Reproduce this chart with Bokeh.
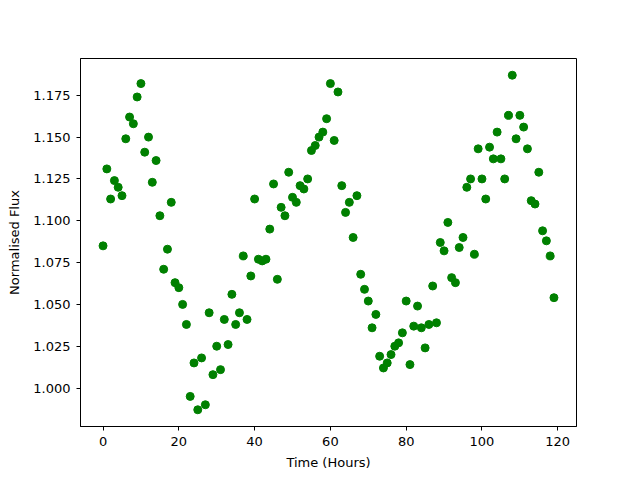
from bokeh.plotting import figure
from bokeh.models import Range1d, FixedTicker, NumeralTickFormatter, ColumnDataSource
from bokeh.embed import file_html
from bokeh.resources import INLINE

time_hours = list(range(120))
flux = [
    1.085, 1.131, 1.113, 1.124, 1.120, 1.115, 1.149, 1.162, 1.158, 1.174,
    1.182, 1.141, 1.150, 1.123, 1.136, 1.103, 1.071, 1.083, 1.111, 1.063,
    1.060, 1.050, 1.038, 0.995, 1.015, 0.987, 1.018, 0.990, 1.045, 1.008,
    1.025, 1.011, 1.041, 1.026, 1.056, 1.038, 1.045, 1.079, 1.041, 1.067,
    1.113, 1.077, 1.076, 1.077, 1.095, 1.122, 1.065, 1.108, 1.103, 1.129,
    1.114, 1.111, 1.121, 1.119, 1.125, 1.142, 1.145, 1.150, 1.153, 1.161,
    1.182, 1.148, 1.177, 1.121, 1.105, 1.111, 1.090, 1.115, 1.068, 1.059,
    1.052, 1.036, 1.044, 1.019, 1.012, 1.015, 1.020, 1.025, 1.027, 1.033,
    1.052, 1.014, 1.037, 1.049, 1.036, 1.024, 1.038, 1.061, 1.039, 1.087,
    1.082, 1.099, 1.066, 1.063, 1.084, 1.090, 1.120, 1.125, 1.080, 1.143,
    1.125, 1.113, 1.144, 1.137, 1.153, 1.137, 1.125, 1.163, 1.187, 1.149,
    1.163, 1.156, 1.143, 1.112, 1.110, 1.129, 1.094, 1.088, 1.079, 1.054,
]
x_ticks = [0, 20, 40, 60, 80, 100, 120]
y_ticks = [1.000, 1.025, 1.050, 1.075, 1.100, 1.125, 1.150, 1.175]

xmin, xmax = min(time_hours), max(time_hours)
ymin, ymax = min(flux), max(flux)
xm = (xmax - xmin) * 0.05
ym = (ymax - ymin) * 0.05

p = figure(width=632, height=472, output_backend="svg", toolbar_location=None,
           x_range=Range1d(xmin - xm, xmax + xm), y_range=Range1d(ymin - ym, ymax + ym),
           min_border_left=80, min_border_right=56, min_border_top=58, min_border_bottom=45)

src = ColumnDataSource(dict(t=time_hours, f=flux))
p.scatter("t", "f", source=src, size=8, fill_color="green", line_color="green")

p.xgrid.visible = False
p.ygrid.visible = False
p.outline_line_color = "black"
p.outline_line_width = 1
p.outline_line_alpha = 1.0
p.background_fill_color = "white"
p.border_fill_color = "white"

p.xaxis.ticker = FixedTicker(ticks=x_ticks)
p.yaxis.ticker = FixedTicker(ticks=y_ticks)
p.yaxis.formatter = NumeralTickFormatter(format="0.000")
p.xaxis.axis_label = "Time (Hours)"
p.yaxis.axis_label = "Normalised Flux"

for ax in (p.xaxis[0], p.yaxis[0]):
    ax.axis_line_color = "black"
    ax.major_tick_line_color = "black"
    ax.minor_tick_line_color = None
    ax.major_tick_in = 0
    ax.major_tick_out = 4
    ax.major_label_text_font = "DejaVu Sans"
    ax.major_label_text_font_size = "13px"
    ax.major_label_text_color = "black"
    ax.axis_label_text_font = "DejaVu Sans"
    ax.axis_label_text_font_size = "13px"
    ax.axis_label_text_font_style = "normal"
    ax.axis_label_text_color = "black"

p.xaxis[0].major_label_standoff = 6
p.xaxis[0].axis_label_standoff = 6
p.yaxis[0].major_label_standoff = 6
p.yaxis[0].axis_label_standoff = 8

open("out.html", "w").write(file_html(p, INLINE))
